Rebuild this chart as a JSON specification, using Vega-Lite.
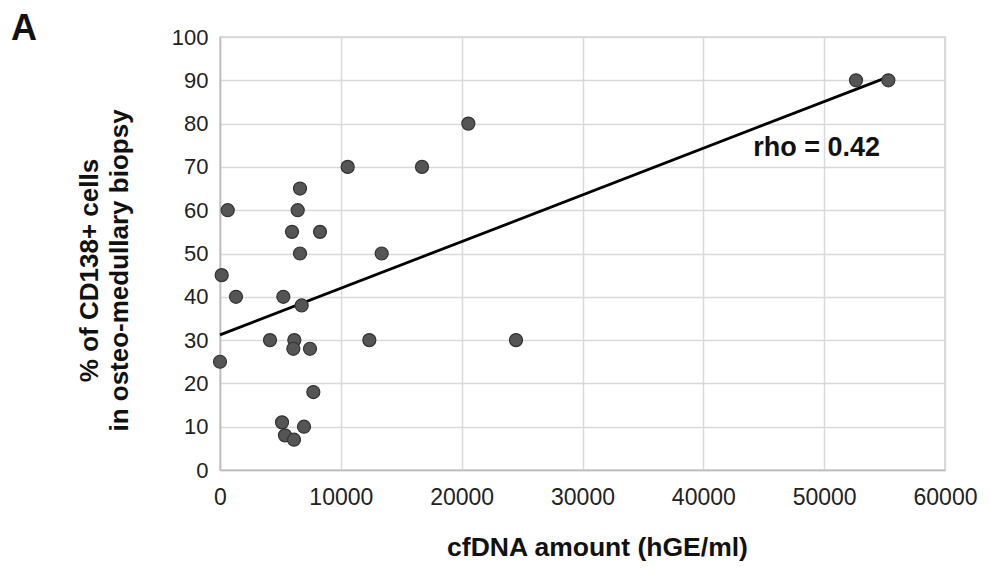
{
  "$schema": "https://vega.github.io/schema/vega-lite/v6.json",
  "autosize": {"type": "none"},
  "width": 725,
  "height": 433,
  "padding": {"left": 220, "top": 37, "right": 45, "bottom": 109},
  "background": "white",
  "title": {
    "text": "A",
    "anchor": "start",
    "frame": "group",
    "fontSize": 36,
    "fontWeight": "bold",
    "font": "Liberation Sans",
    "color": "#111111",
    "baseline": "alphabetic",
    "offset": 0,
    "dx": -209,
    "dy": 50
  },
  "config": {
    "font": "Liberation Sans",
    "view": {"stroke": "#cfcfcf", "strokeWidth": 1.5},
    "axis": {
      "gridColor": "#d9d9d9",
      "gridWidth": 1.5,
      "domainColor": "#bdbdbd",
      "domainWidth": 1.5,
      "ticks": false,
      "labelColor": "#222222",
      "labelFont": "Liberation Sans",
      "titleColor": "#111111",
      "titleFont": "Liberation Sans",
      "titleFontWeight": "bold"
    }
  },
  "datasets": {
    "points": [
      {"cfdna": 10568, "pct": 70},
      {"cfdna": 16717, "pct": 70},
      {"cfdna": 6621, "pct": 65},
      {"cfdna": 637, "pct": 60},
      {"cfdna": 6430, "pct": 60},
      {"cfdna": 5959, "pct": 55},
      {"cfdna": 8276, "pct": 55},
      {"cfdna": 6621, "pct": 50},
      {"cfdna": 13380, "pct": 50},
      {"cfdna": 140, "pct": 45},
      {"cfdna": 1324, "pct": 40},
      {"cfdna": 5241, "pct": 40},
      {"cfdna": 6759, "pct": 38},
      {"cfdna": 4138, "pct": 30},
      {"cfdna": 6152, "pct": 30},
      {"cfdna": 6069, "pct": 28},
      {"cfdna": 7448, "pct": 28},
      {"cfdna": 12359, "pct": 30},
      {"cfdna": 0, "pct": 25},
      {"cfdna": 7724, "pct": 18},
      {"cfdna": 5131, "pct": 11},
      {"cfdna": 6952, "pct": 10},
      {"cfdna": 5379, "pct": 8},
      {"cfdna": 6124, "pct": 7},
      {"cfdna": 20552, "pct": 80},
      {"cfdna": 24496, "pct": 30},
      {"cfdna": 52634, "pct": 90},
      {"cfdna": 55310, "pct": 90}
    ],
    "trend": [
      {"cfdna": 0, "pct": 31.2},
      {"cfdna": 55310, "pct": 90.8}
    ],
    "note": [
      {"cfdna": 49380, "pct": 74.3, "label": "rho = 0.42"}
    ]
  },
  "encoding": {
    "x": {
      "field": "cfdna",
      "type": "quantitative",
      "scale": {"domain": [0, 60000], "nice": false, "zero": false},
      "axis": {
        "title": "cfDNA  amount (hGE/ml)",
        "values": [0, 10000, 20000, 30000, 40000, 50000, 60000],
        "format": "d",
        "labelFontSize": 23,
        "labelPadding": 16,
        "labelFlush": false,
        "titleFontSize": 26.5,
        "titlePadding": 25,
        "titleX": 377
      }
    },
    "y": {
      "field": "pct",
      "type": "quantitative",
      "scale": {"domain": [0, 100], "nice": false},
      "axis": {
        "title": ["% of CD138+ cells", "in osteo-medullary biopsy"],
        "values": [0, 10, 20, 30, 40, 50, 60, 70, 80, 90, 100],
        "labelFontSize": 22,
        "labelPadding": 12,
        "labelFlush": false,
        "titleFontSize": 26,
        "titleLineHeight": 30,
        "titlePadding": 39,
        "titleY": 233
      }
    }
  },
  "layer": [
    {
      "data": {"name": "trend"},
      "mark": {"type": "line", "color": "#000000", "strokeWidth": 2.8}
    },
    {
      "data": {"name": "points"},
      "mark": {"type": "point", "shape": "circle", "filled": true, "size": 170, "fill": "#555555", "stroke": "#333333", "strokeWidth": 1.2, "opacity": 1}
    },
    {
      "data": {"name": "note"},
      "mark": {"type": "text", "fontSize": 27, "fontWeight": "bold", "color": "#111111", "align": "center", "baseline": "middle"},
      "encoding": {"text": {"field": "label"}}
    }
  ]
}
